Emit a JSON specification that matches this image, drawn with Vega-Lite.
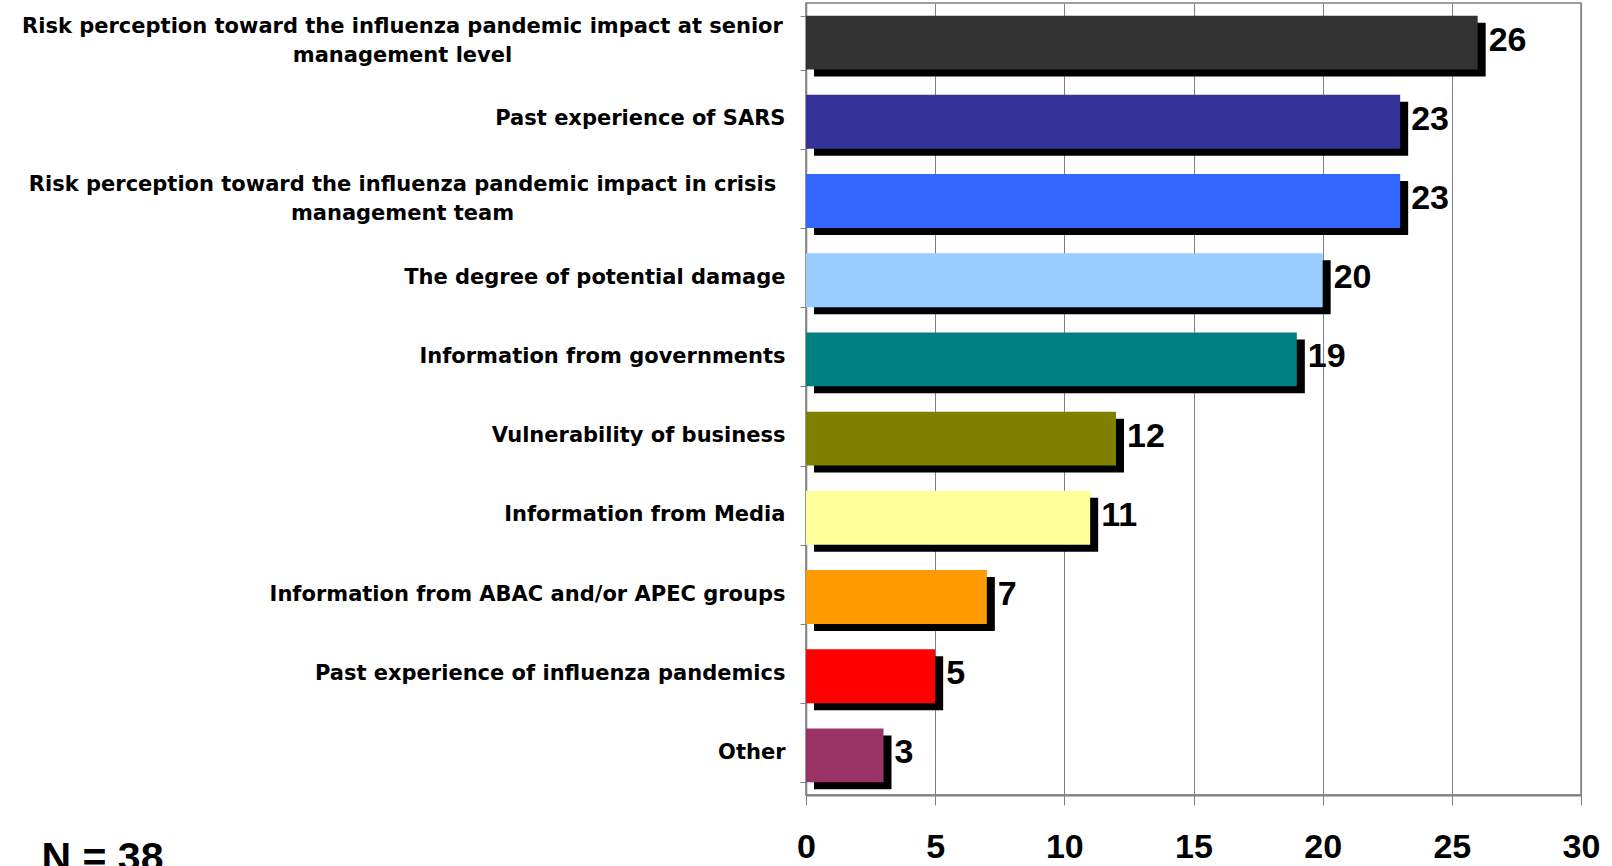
{
  "$schema": "https://vega.github.io/schema/vega-lite/v6.json",
  "width": 775,
  "height": 792,
  "autosize": {"type": "none"},
  "padding": {"left": 806, "top": 3, "right": 31, "bottom": 71},
  "background": "white",
  "config": {"view": {"stroke": "#808080", "strokeWidth": 1.5}},
  "data": {
    "values": [
      {"factor": "Risk perception toward the influenza pandemic impact at senior management level", "count": 26},
      {"factor": "Past experience of SARS", "count": 23},
      {"factor": "Risk perception toward the influenza pandemic impact in crisis management team", "count": 23},
      {"factor": "The degree of potential damage", "count": 20},
      {"factor": "Information from governments", "count": 19},
      {"factor": "Vulnerability of business", "count": 12},
      {"factor": "Information from Media", "count": 11},
      {"factor": "Information from ABAC and/or APEC groups", "count": 7},
      {"factor": "Past experience of influenza pandemics", "count": 5},
      {"factor": "Other", "count": 3}
    ]
  },
  "encoding": {
    "x": {
      "field": "count",
      "type": "quantitative",
      "scale": {"domain": [0, 30]},
      "axis": {
        "values": [0, 5, 10, 15, 20, 25, 30],
        "grid": true,
        "gridColor": "#808080",
        "gridWidth": 1,
        "domainColor": "#808080",
        "domainWidth": 2,
        "tickColor": "#808080",
        "tickSize": 10,
        "labelFont": "Liberation Sans",
        "labelFontSize": 34,
        "labelFontWeight": "bold",
        "labelColor": "black",
        "labelPadding": 25,
        "labelFlush": false,
        "labelOverlap": false,
        "title": "N = 38",
        "titleX": -765,
        "titleY": 75,
        "titleAlign": "left",
        "titleBaseline": "alphabetic",
        "titleFont": "Liberation Sans",
        "titleFontSize": 41,
        "titleFontWeight": "bold",
        "titleColor": "black"
      }
    }
  },
  "layer": [
    {
      "mark": {"type": "bar", "color": "black", "xOffset": 8, "yOffset": 7},
      "encoding": {
        "y": {
          "field": "factor",
          "type": "nominal",
          "sort": null,
          "scale": {"paddingInner": 0.32, "paddingOuter": 0.16},
          "axis": {
            "title": null,
            "domainColor": "#808080",
            "domainWidth": 1.5,
            "tickColor": "#808080",
            "tickSize": 6,
            "tickBand": "extent",
            "labelFont": "DejaVu Sans",
            "labelFontSize": 21,
            "labelFontWeight": "bold",
            "labelColor": "black",
            "labelPadding": 15,
            "labelLimit": 900,
            "labelOffset": -3,
            "labelExpr": "!datum.value || length(datum.value) > 60 ? '' : datum.value"
          }
        }
      }
    },
    {
      "mark": {"type": "bar"},
      "encoding": {
        "y": {"field": "factor", "type": "nominal", "sort": null, "scale": {"paddingInner": 0.32, "paddingOuter": 0.16}, "axis": null},
        "color": {
          "field": "factor",
          "type": "nominal",
          "sort": null,
          "legend": null,
          "scale": {"range": ["#333333", "#333399", "#3366FF", "#99CCFF", "#008080", "#808000", "#FFFF99", "#FF9900", "#FF0000", "#993366"]}
        }
      }
    },
    {
      "mark": {"type": "text", "align": "left", "baseline": "middle", "dx": 11, "dy": -2, "font": "Liberation Sans", "fontSize": 34, "fontWeight": "bold", "color": "black"},
      "encoding": {
        "y": {
          "field": "factor",
          "type": "nominal",
          "sort": null,
          "scale": {"paddingInner": 0.32, "paddingOuter": 0.16},
          "axis": {
            "orient": "left",
            "title": null,
            "domain": false,
            "ticks": false,
            "tickSize": 0,
            "grid": false,
            "labelFont": "DejaVu Sans",
            "labelFontSize": 21,
            "labelFontWeight": "bold",
            "labelColor": "black",
            "labelAlign": "center",
            "labelBaseline": "middle",
            "labelPadding": 404,
            "labelLineHeight": 29,
            "labelLimit": 900,
            "labelOffset": -16,
            "labelExpr": "datum.value && length(datum.value) > 60 ? split(replace(replace(datum.value, ' at senior management', ' at senior|management'), ' in crisis management', ' in crisis|management'), '|') : ''"
          }
        },
        "text": {"field": "count", "type": "quantitative"}
      }
    }
  ],
  "resolve": {"axis": {"y": "independent"}}
}
